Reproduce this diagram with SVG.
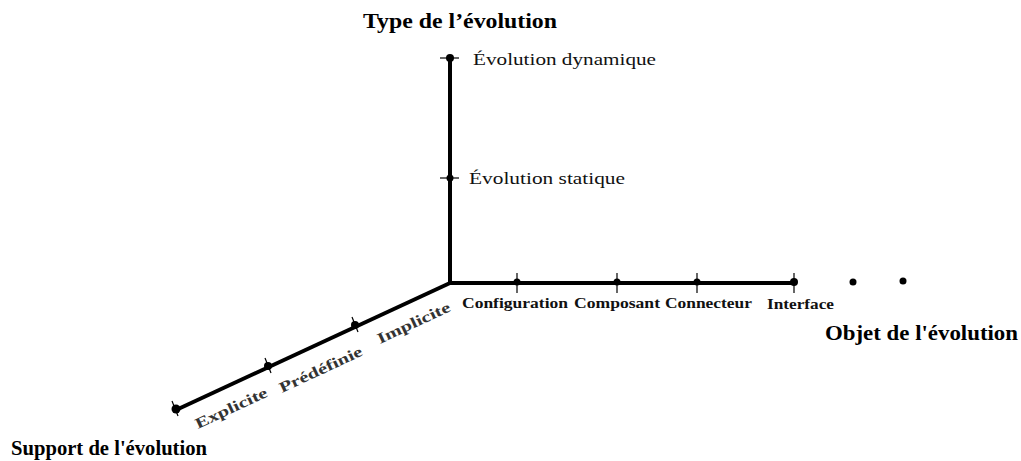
<svg xmlns="http://www.w3.org/2000/svg" width="1021" height="461" viewBox="0 0 1021 461">
<style>
.axis{stroke:#000;stroke-width:4;fill:none;stroke-linecap:butt}
.tick{stroke:#000;stroke-width:1.2}
.title{font-family:"Liberation Serif",serif;font-weight:bold;font-size:20px;fill:#000}
.lab{font-family:"Liberation Serif",serif;font-size:17px;fill:#111}
.small{font-family:"Liberation Serif",serif;font-weight:bold;font-size:14px;fill:#111}
.diag{font-family:"Liberation Serif",serif;font-weight:bold;font-size:15px;fill:#333}
</style>
<rect width="1021" height="461" fill="#fff"/>
<g id="connectors">
<path class="axis" d="M450,57 V284"/>
<path class="axis" d="M448,283 H796" stroke-width="3"/>
<path class="axis" d="M450,283 L176,410" stroke-width="3.5"/>
</g>
<g id="type-axis">
<line class="tick" x1="440" y1="58" x2="459" y2="58"/><circle cx="450" cy="58" r="4"/>
<line class="tick" x1="440" y1="178" x2="459" y2="178"/><circle cx="450" cy="178" r="3.5"/>
<text class="title" x="363" y="28" textLength="194" lengthAdjust="spacingAndGlyphs">Type de l’évolution</text>
<text class="lab" x="473" y="65" textLength="183" lengthAdjust="spacingAndGlyphs">Évolution dynamique</text>
<text class="lab" x="469" y="184" textLength="156" lengthAdjust="spacingAndGlyphs">Évolution statique</text>
</g>
<g id="objet-axis">
<line class="tick" x1="517" y1="273" x2="517" y2="293"/><circle cx="517" cy="282" r="3.5"/>
<line class="tick" x1="617" y1="273" x2="617" y2="293"/><circle cx="617" cy="282" r="3.5"/>
<line class="tick" x1="697" y1="273" x2="697" y2="293"/><circle cx="697" cy="282" r="3.5"/>
<line class="tick" x1="794" y1="273" x2="794" y2="293"/><circle cx="794" cy="282" r="4"/>
<circle cx="853" cy="282" r="3.5"/><circle cx="903" cy="281" r="3.5"/>
<text class="small" x="462" y="308" textLength="106" lengthAdjust="spacingAndGlyphs">Configuration</text>
<text class="small" x="574" y="308" textLength="86" lengthAdjust="spacingAndGlyphs">Composant</text>
<text class="small" x="665" y="308" textLength="87" lengthAdjust="spacingAndGlyphs">Connecteur</text>
<text class="small" x="767" y="309" textLength="67" lengthAdjust="spacingAndGlyphs">Interface</text>
<text class="title" x="825" y="340" textLength="193" lengthAdjust="spacingAndGlyphs">Objet de l'évolution</text>
</g>
<g id="support-axis">
<line class="tick" x1="172" y1="401" x2="178" y2="416"/><circle cx="176" cy="409" r="4.5"/>
<line class="tick" x1="265" y1="358" x2="271" y2="373"/><circle cx="268" cy="366" r="4"/>
<line class="tick" x1="352" y1="317" x2="358" y2="332"/><circle cx="355" cy="325" r="4"/>
<text class="diag" transform="translate(198,429) rotate(-25)" textLength="78" lengthAdjust="spacingAndGlyphs">Explicite</text>
<text class="diag" transform="translate(282,393) rotate(-25)" textLength="90" lengthAdjust="spacingAndGlyphs">Prédéfinie</text>
<text class="diag" transform="translate(380,344) rotate(-25)" textLength="79" lengthAdjust="spacingAndGlyphs">Implicite</text>
<text class="title" x="11" y="455" textLength="196" lengthAdjust="spacingAndGlyphs">Support de l'évolution</text>
</g>
</svg>
